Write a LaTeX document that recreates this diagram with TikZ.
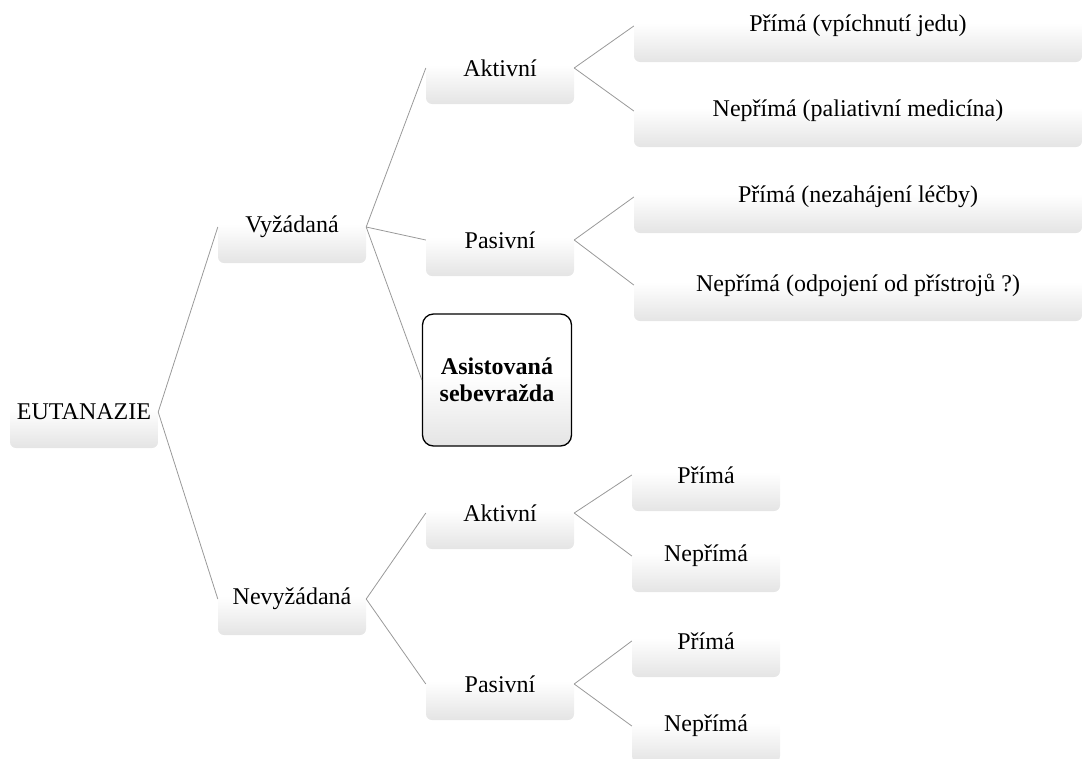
\documentclass[tikz,border=0pt]{standalone}
\usepackage{fontspec}
\setmainfont{Liberation Serif}
% soft fade: white in the upper part, light grey at the bottom edge
\pgfdeclareverticalshading{cardfade}{100bp}{color(0bp)=(gray!21); color(25bp)=(gray!21); color(52bp)=(white); color(100bp)=(white)}
\begin{document}
\begin{tikzpicture}[x=1pt,y=-1pt,
  card/.style={rounded corners=6pt, minimum height=72pt, inner sep=0pt,
    shading=cardfade, font=\fontsize{24}{28}\selectfont, text=black},
  narrowcard/.style={card, minimum width=148pt},
  widecard/.style={card, minimum width=448pt},
  keycard/.style={card, draw=black, line width=1.3pt, rounded corners=11pt,
    minimum width=149pt, minimum height=132pt, align=center,
    font=\fontsize{24}{27}\selectfont\bfseries},
  link/.style={draw=gray!80, line width=0.8pt}]
\useasboundingbox (0,0) rectangle (1083,758);

% root and first level
\node[narrowcard] (eut) at (84,412) {EUTANAZIE};
\node[narrowcard] (vyz) at (292,227) {Vyžádaná};
\node[narrowcard] (nev) at (292,599) {Nevyžádaná};

% second level
\node[narrowcard] (akt1) at (500,68) {Aktivní};
\node[narrowcard] (pas1) at (500,240) {Pasivní};
\node[keycard] (asi) at (497,380) {Asistovaná\\sebevražda};
\node[narrowcard] (akt2) at (500,513) {Aktivní};
\node[narrowcard] (pas2) at (500,684) {Pasivní};

% third level
\node[widecard] (a1p) at (858,26) {Přímá (vpíchnutí jedu)};
\node[widecard] (a1n) at (858,111) {Nepřímá (paliativní medicína)};
\node[widecard] (p1p) at (858,197) {Přímá (nezahájení léčby)};
\node[widecard] (p1n) at (858,285) {Nepřímá (odpojení od přístrojů ?)};
\node[narrowcard] (a2p) at (706,475) {Přímá};
\node[narrowcard] (a2n) at (706,556) {Nepřímá};
\node[narrowcard] (p2p) at (706,641) {Přímá};
\node[narrowcard] (p2n) at (706,726) {Nepřímá};

% connectors
\path[link] (eut.east) -- (vyz.west);
\path[link] (eut.east) -- (nev.west);
\path[link] (vyz.east) -- (akt1.west);
\path[link] (vyz.east) -- (pas1.west);
\path[link] (vyz.east) -- (asi.west);
\path[link] (nev.east) -- (akt2.west);
\path[link] (nev.east) -- (pas2.west);
\path[link] (akt1.east) -- (a1p.west);
\path[link] (akt1.east) -- (a1n.west);
\path[link] (pas1.east) -- (p1p.west);
\path[link] (pas1.east) -- (p1n.west);
\path[link] (akt2.east) -- (a2p.west);
\path[link] (akt2.east) -- (a2n.west);
\path[link] (pas2.east) -- (p2p.west);
\path[link] (pas2.east) -- (p2n.west);
\end{tikzpicture}
\end{document}
